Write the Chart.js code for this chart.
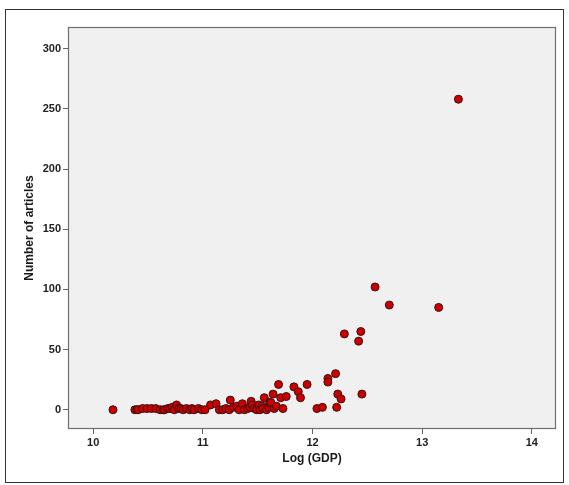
<!DOCTYPE html>
<html>
<head>
<meta charset="utf-8">
<script src="https://cdn.jsdelivr.net/npm/chart.js@4"></script>
<style>
html, body { margin: 0; padding: 0; background: #fff; }
#wrap { position: relative; width: 569px; height: 485px; }
#frame { position: absolute; left: 5px; top: 9px; width: 557px; height: 472px; border: 1px solid #333; }
canvas { position: absolute; left: 0; top: 0; }
</style>
</head>
<body>
<div id="wrap">
<div id="frame"></div>
<canvas id="c" width="569" height="485"></canvas>
</div>
<script>
/* DATA */
const logGdp = [
10.18, 10.38, 10.40, 10.41, 10.45, 10.49, 10.53, 10.57, 10.61, 10.64,
10.65, 10.68, 10.70, 10.72, 10.74, 10.76, 10.78, 10.80, 10.82, 10.85,
10.88, 10.90, 10.92, 10.96, 10.99, 11.02, 11.07, 11.12, 11.15, 11.18,
11.21, 11.24, 11.25, 11.28, 11.31, 11.33, 11.36, 11.38, 11.41, 11.43,
11.44, 11.45, 11.47, 11.49, 11.51, 11.52, 11.54, 11.55, 11.56, 11.58,
11.60, 11.61, 11.62, 11.64, 11.65, 11.67, 11.69, 11.71, 11.73, 11.76,
11.83, 11.87, 11.89, 11.95, 12.04, 12.09, 12.14, 12.14, 12.21, 12.22,
12.23, 12.26, 12.29, 12.42, 12.44, 12.45, 12.57, 12.70, 13.15, 13.33
];
const articles = [
0, 0, 0, 0, 1, 1, 1, 1, 0, 0,
0, 1, 1, 2, 0, 4, 1, 1, 0, 1,
0, 1, 0, 1, 0, 0, 4, 5, 0, 0,
1, 0, 8, 2, 3, 0, 5, 0, 1, 2,
7, 4, 1, 0, 4, 0, 3, 1, 10, 0,
2, 6, 6, 13, 1, 3, 21, 10, 1, 11,
19, 15, 10, 21, 1, 2, 26, 23, 30, 2,
13, 9, 63, 57, 65, 13, 102, 87, 85, 258
];
const xTicks = [10, 11, 12, 13, 14];
const yTicks = [0, 50, 100, 150, 200, 250, 300];

const points = logGdp.map((x, i) => ({ x: x, y: articles[i] }));

/* PLOT BACKGROUND + BORDER */
const plotBox = {
id: "plotBox",
beforeDatasetsDraw(chart) {
const a = chart.chartArea;
const ctx = chart.ctx;
ctx.save();
ctx.fillStyle = "#f0f0f0";
ctx.fillRect(a.left, a.top, a.width, a.height);
ctx.strokeStyle = "#6e6e6e";
ctx.lineWidth = 1.2;
ctx.strokeRect(a.left + 0.5, a.top + 0.5, a.width - 1, a.height - 1);
ctx.restore();
}
};

const tickFont = { family: "'Liberation Sans', Arial, sans-serif", size: 11, weight: "bold" };
const titleFont = { family: "'Liberation Sans', Arial, sans-serif", size: 12, weight: "bold" };

new Chart(document.getElementById("c"), {
type: "scatter",
data: {
datasets: [{
data: points,
backgroundColor: "#cc0000",
borderColor: "#3a1010",
borderWidth: 1,
pointRadius: 4
}]
},
options: {
responsive: false,
animation: false,
events: [],
layout: { padding: { left: 22, right: 13, top: 27, bottom: 15 } },
plugins: { legend: { display: false }, tooltip: { enabled: false } },
scales: {
x: {
type: "linear",
min: 9.77,
max: 14.22,
afterBuildTicks: (s) => { s.ticks = xTicks.map(v => ({ value: v })); },
afterFit: (s) => { s.height = 41; },
ticks: { font: tickFont, color: "#222", padding: 2, maxRotation: 0 },
grid: { drawOnChartArea: false, drawTicks: true, tickLength: 5, color: "#666" },
border: { display: false },
title: { display: true, text: "Log (GDP)", font: titleFont, color: "#1a1a1a", padding: { top: 2, bottom: 4 } }
},
y: {
type: "linear",
min: -16,
max: 318,
afterBuildTicks: (s) => { s.ticks = yTicks.map(v => ({ value: v })); },
afterFit: (s) => { s.width = 46; },
ticks: { font: tickFont, color: "#222", padding: 2 },
grid: { drawOnChartArea: false, drawTicks: true, tickLength: 5, color: "#666" },
border: { display: false },
title: { display: true, text: "Number of articles", font: titleFont, color: "#1a1a1a", padding: { top: 0, bottom: 4 } }
}
}
},
plugins: [plotBox]
});
</script>
</body>
</html>
